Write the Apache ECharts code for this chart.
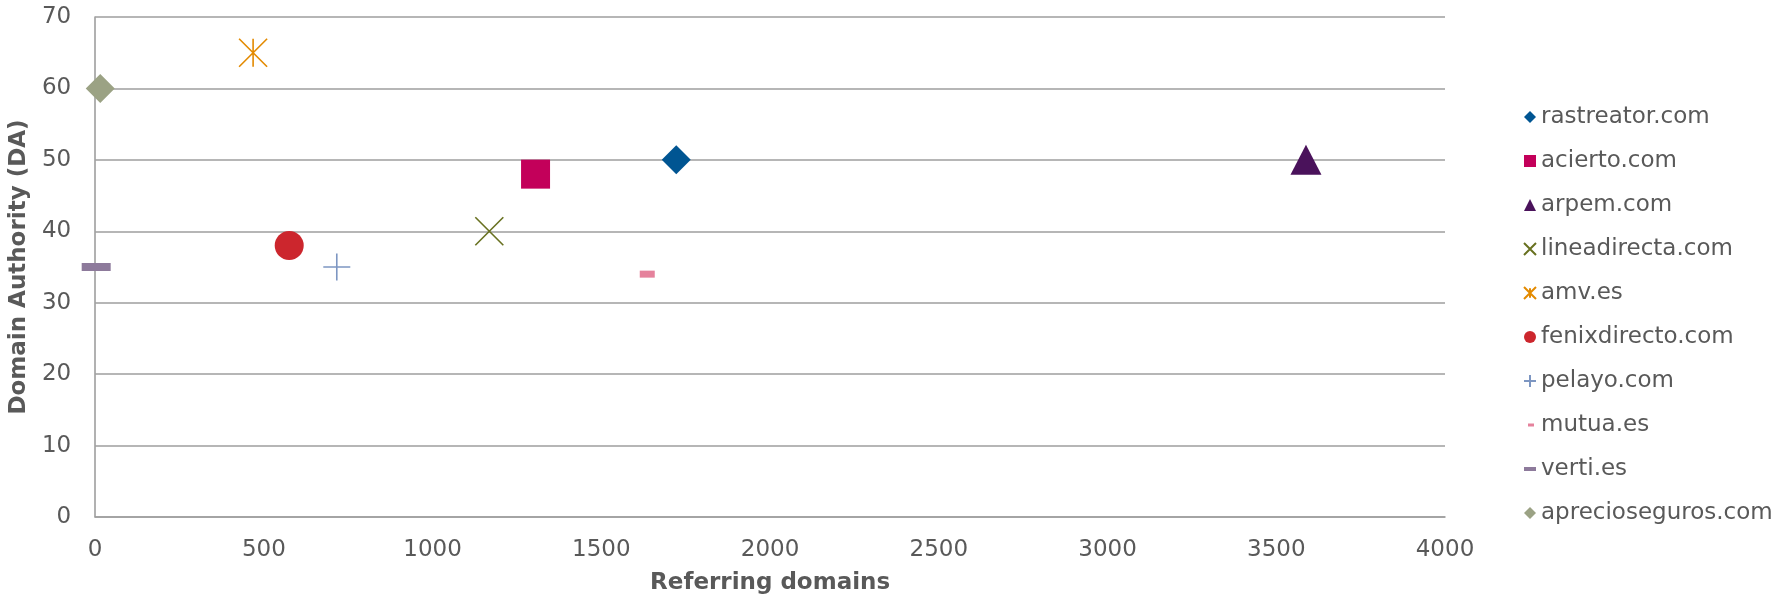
<!DOCTYPE html>
<html>
<head>
<meta charset="utf-8">
<script src="https://cdn.jsdelivr.net/npm/echarts@6/dist/echarts.min.js"></script>
<style>
html,body{margin:0;padding:0;background:#fff;}
#chart{width:1773px;height:600px;}
</style>
</head>
<body>
<div id="chart"></div>
<script>
// ---- data ----
const seriesNames = ['rastreator.com', 'acierto.com', 'arpem.com', 'lineadirecta.com', 'amv.es',
  'fenixdirecto.com', 'pelayo.com', 'mutua.es', 'verti.es', 'aprecioseguros.com'];
const referringDomains = [1722, 1305, 3588, 1168, 468, 575, 716, 1636, 3, 15];
const domainAuthority = [50, 48, 50, 40, 65, 38, 35, 34, 35, 60];
const xAxisTitle = 'Referring domains';
const yAxisTitle = 'Domain Authority (DA)';
const xMin = 0, xMax = 4000, xStep = 500;
const yMin = 0, yMax = 70, yStep = 10;

// ---- styles ----
const colors = ['#005592', '#C3005A', '#4A125B', '#687120', '#E38A00',
  '#CC262D', '#7D96C2', '#E5829C', '#8D7A9B', '#9BA284'];
const X_PATH = 'path://M0,0L12,12M12,0L0,12';
const STAR_PATH = 'path://M0,0L12,12M12,0L0,12M6,0L6,12';
const PLUS_PATH = 'path://M6,0L6,12M0,6L12,6';
const markers = [
  {symbol: 'diamond', size: [29, 29], stroke: false, icon: 'diamond'},
  {symbol: 'rect', size: [29, 29], stroke: false, icon: 'rect'},
  {symbol: 'triangle', size: [31, 30], stroke: false, icon: 'triangle'},
  {symbol: X_PATH, size: [28, 28], stroke: true, icon: X_PATH},
  {symbol: STAR_PATH, size: [28, 28], stroke: true, icon: 'path://M1,1L11,11M11,1L1,11M6,2L6,10'},
  {symbol: 'circle', size: [29, 29], stroke: false, icon: 'circle'},
  {symbol: PLUS_PATH, size: [27, 27], stroke: true, icon: PLUS_PATH},
  {symbol: 'rect', size: [15, 7], stroke: false, icon: 'path://M0,0L0,0M12,12L12,12M4,4.5h6v3h-6z'},
  {symbol: 'rect', size: [29, 8], stroke: false, icon: 'path://M0,0L0,0M12,12L12,12M0,4h12v4h-12z'},
  {symbol: 'diamond', size: [29, 29], stroke: false, icon: 'diamond'}
];

const FONT = '"DejaVu Sans", Verdana, sans-serif';
const TEXT = '#595959';
const GRID = '#9E9E9E';

const series = seriesNames.map((name, i) => {
  const m = markers[i];
  return {
    name: name,
    type: 'scatter',
    data: [[referringDomains[i], domainAuthority[i]]],
    symbol: m.symbol,
    symbolSize: m.size,
    itemStyle: m.stroke
      ? {color: colors[i], borderColor: colors[i], borderWidth: 1.6, opacity: 1}
      : {color: colors[i], borderWidth: 0, opacity: 1},
    emphasis: {disabled: true},
    z: 3
  };
});

const chart = echarts.init(document.getElementById('chart'), null, {renderer: 'canvas'});
chart.setOption({
  animation: false,
  backgroundColor: '#ffffff',
  textStyle: {fontFamily: FONT},
  grid: {left: 95, right: 328, top: 17, bottom: 82, containLabel: false},
  xAxis: {
    type: 'value',
    min: xMin, max: xMax, interval: xStep,
    name: xAxisTitle,
    nameLocation: 'middle',
    nameGap: 55,
    nameTextStyle: {fontFamily: FONT, fontSize: 23, fontWeight: 'bold', color: TEXT},
    axisLine: {show: true, lineStyle: {color: GRID, width: 1.6}},
    axisTick: {show: false},
    splitLine: {show: false},
    axisLabel: {fontFamily: FONT, fontSize: 23, color: TEXT, margin: 21, lineHeight: 24,
      formatter: v => String(v)}
  },
  yAxis: {
    type: 'value',
    min: yMin, max: yMax, interval: yStep,
    name: yAxisTitle,
    nameLocation: 'middle',
    nameRotate: 90,
    nameGap: 57,
    nameTextStyle: {fontFamily: FONT, fontSize: 23, fontWeight: 'bold', color: TEXT},
    axisLine: {show: true, lineStyle: {color: GRID, width: 1.6}},
    axisTick: {show: false},
    splitLine: {show: true, lineStyle: {color: GRID, width: 1.6}},
    axisLabel: {fontFamily: FONT, fontSize: 23, color: TEXT, margin: 24,
      formatter: v => String(v)}
  },
  legend: {
    orient: 'vertical',
    left: 1518,
    top: 100,
    itemWidth: 12,
    itemHeight: 12,
    itemGap: 20,
    selectedMode: false,
    textStyle: {fontFamily: FONT, fontSize: 23, color: TEXT, lineHeight: 24},
    data: seriesNames.map((n, i) => ({name: n, icon: markers[i].icon}))
  },
  series: series
});
</script>
</body>
</html>
